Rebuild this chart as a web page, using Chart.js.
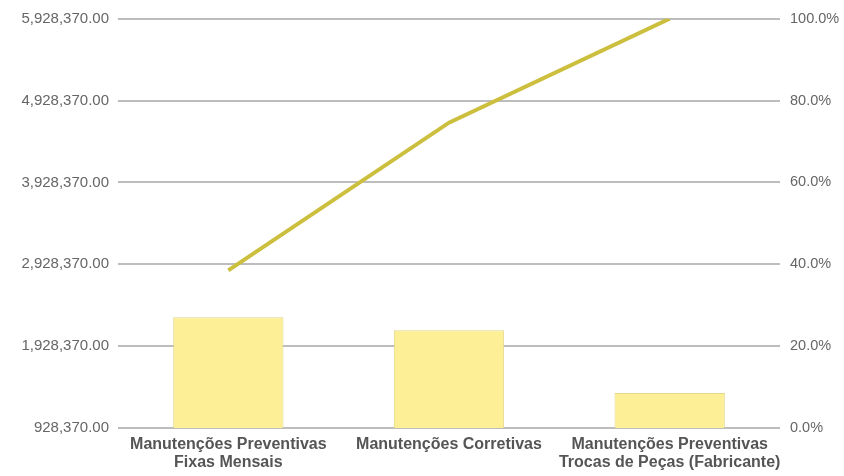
<!DOCTYPE html>
<html>
<head>
<meta charset="utf-8">
<script src="https://cdn.jsdelivr.net/npm/chart.js@4"></script>
<style>
html,body{margin:0;padding:0;background:#fff;}
#wrap{width:844px;height:476px;}
</style>
</head>
<body>
<div id="wrap"><canvas id="c" width="844" height="476"></canvas></div>
<script>
const categories = [
  ["Manutenções Preventivas", "Fixas Mensais"],
  ["Manutenções Corretivas"],
  ["Manutenções Preventivas", "Trocas de Peças (Fabricante)"]
];
const costValues = [2280000, 2122000, 1355000];
const cumulativePct = [38.5, 74.6, 100];
const leftTicks = [928370, 1928370, 2928370, 3928370, 4928370, 5928370];
const rightTicks = [0, 20, 40, 60, 80, 100];

const fmtMoney = v => v.toLocaleString('en-US', {minimumFractionDigits: 2, maximumFractionDigits: 2});

new Chart(document.getElementById('c'), {
  data: {
    labels: categories,
    datasets: [
      {
        type: 'line',
        data: cumulativePct,
        yAxisID: 'y1',
        borderColor: '#cdbf3e',
        borderWidth: 4,
        pointRadius: 0,
        fill: false,
        tension: 0,
        order: 0
      },
      {
        type: 'bar',
        data: costValues,
        yAxisID: 'y',
        backgroundColor: '#fcef96',
        borderColor: '#e3d788',
        borderWidth: 1,
        categoryPercentage: 1,
        barPercentage: 0.5,
        order: 1
      }
    ]
  },
  options: {
    responsive: false,
    animation: false,
    layout: { padding: { top: 17, left: 0, right: 0, bottom: 0 } },
    plugins: { legend: { display: false }, tooltip: { enabled: false } },
    scales: {
      x: {
        grid: { display: false, drawTicks: false },
        border: { display: false },
        ticks: {
          color: '#555',
          padding: 7,
          maxRotation: 0,
          autoSkip: false,
          font: { family: 'Liberation Sans, Arial, sans-serif', size: 16, weight: 'bold', lineHeight: '18.5px' }
        },
        afterFit: s => { s.height = 48; }
      },
      y: {
        position: 'left',
        min: leftTicks[0],
        max: leftTicks[leftTicks.length - 1],
        afterBuildTicks: s => { s.ticks = leftTicks.map(v => ({ value: v })); },
        grid: { color: '#bdbdbd', lineWidth: 2, drawTicks: false },
        border: { display: false },
        ticks: {
          color: '#666',
          padding: 9,
          callback: v => fmtMoney(v),
          font: { family: 'Liberation Sans, Arial, sans-serif', size: 15 }
        },
        afterFit: s => { s.width = 118; }
      },
      y1: {
        position: 'right',
        min: 0,
        max: 100,
        afterBuildTicks: s => { s.ticks = rightTicks.map(v => ({ value: v })); },
        grid: { display: false, drawTicks: false },
        border: { display: false },
        ticks: {
          color: '#666',
          padding: 10,
          callback: v => v.toFixed(1) + '%',
          font: { family: 'Liberation Sans, Arial, sans-serif', size: 14.5 }
        },
        afterFit: s => { s.width = 64; }
      }
    }
  }
});
</script>
</body>
</html>
